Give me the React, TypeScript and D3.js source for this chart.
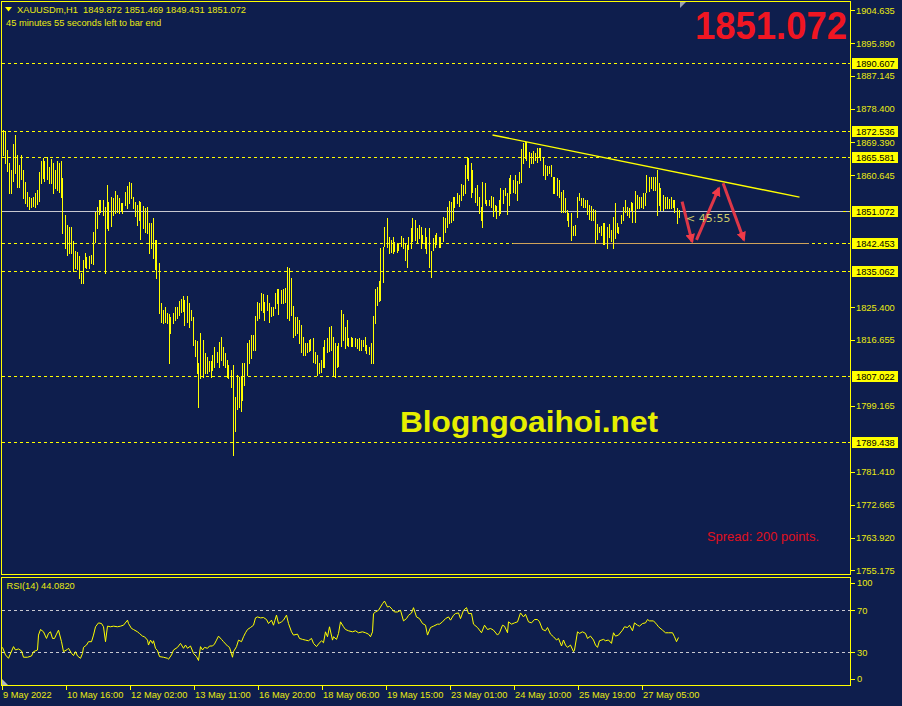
import React from "react";
import * as d3 from "d3";

const W = 902;
const H = 706;

// hourly bars, XAUUSDm H1 (high / low)
const highs = [
  1872.7, 1872.5, 1867.4, 1863.9, 1862.0, 1869.0, 1871.4, 1866.1, 1863.4, 1866.1,
  1862.0, 1858.8, 1856.2, 1854.8, 1854.6, 1854.8, 1855.9, 1856.7, 1861.5, 1864.5,
  1865.3, 1864.5, 1865.5, 1862.8, 1865.0, 1863.9, 1862.0, 1864.5, 1863.9, 1864.5,
  1859.9, 1850.0, 1847.4, 1846.8, 1846.8, 1843.1, 1840.4, 1840.2, 1839.1, 1834.5,
  1838.0, 1839.9, 1838.8, 1839.1, 1839.4, 1845.5, 1850.8, 1852.2, 1854.0, 1854.0,
  1854.0, 1852.2, 1858.0, 1853.5, 1854.8, 1854.6, 1856.4, 1855.4, 1854.6, 1853.2,
  1853.2, 1856.2, 1857.8, 1858.8, 1858.6, 1854.8, 1853.5, 1852.7, 1853.8, 1853.5,
  1852.4, 1851.9, 1852.2, 1847.9, 1847.9, 1849.2, 1843.4, 1843.4, 1837.2, 1826.5,
  1824.7, 1825.5, 1823.9, 1823.6, 1822.8, 1823.9, 1825.5, 1825.5, 1827.1, 1827.6,
  1828.4, 1827.3, 1828.4, 1826.5, 1824.7, 1822.8, 1816.7, 1816.4, 1810.5, 1818.5,
  1816.7, 1813.2, 1812.1, 1811.0, 1811.0, 1812.6, 1814.8, 1813.4, 1816.1, 1817.5,
  1814.8, 1813.2, 1811.3, 1810.0, 1808.6, 1810.0, 1801.4, 1807.3, 1806.8, 1807.0,
  1810.5, 1810.5, 1815.9, 1816.7, 1818.0, 1818.0, 1823.1, 1826.8, 1826.5, 1829.2,
  1828.9, 1826.8, 1828.7, 1826.5, 1825.5, 1825.5, 1829.2, 1830.3, 1830.3, 1830.0,
  1830.3, 1830.5, 1836.1, 1835.9, 1833.2, 1825.7, 1822.8, 1822.8, 1822.0, 1820.7,
  1817.5, 1815.9, 1815.9, 1816.7, 1816.9, 1817.2, 1813.4, 1812.6, 1810.5, 1811.3,
  1814.8, 1816.7, 1817.2, 1820.1, 1820.4, 1817.5, 1815.9, 1815.1, 1815.9, 1824.7,
  1823.6, 1820.1, 1822.0, 1817.2, 1817.5, 1817.2, 1817.2, 1816.9, 1817.2, 1816.7,
  1816.7, 1817.5, 1815.3, 1814.8, 1815.9, 1823.1, 1830.3, 1830.8, 1832.4, 1841.2,
  1841.5, 1846.8, 1849.2, 1844.2, 1843.4, 1844.2, 1842.8, 1842.6, 1842.6, 1844.4,
  1843.9, 1842.6, 1842.0, 1844.2, 1846.6, 1849.2, 1848.7, 1846.6, 1847.4, 1846.8,
  1844.7, 1846.6, 1844.2, 1846.6, 1840.4, 1843.9, 1844.7, 1845.2, 1844.2, 1844.2,
  1849.5, 1849.2, 1852.2, 1853.8, 1853.5, 1854.8, 1854.8, 1855.9, 1855.4, 1858.3,
  1858.0, 1863.4, 1865.5, 1865.3, 1863.9, 1862.0, 1857.2, 1858.0, 1854.8, 1852.2,
  1858.8, 1858.6, 1854.0, 1854.0, 1855.1, 1854.8, 1852.7, 1852.4, 1854.0, 1857.2,
  1856.7, 1857.2, 1855.9, 1859.9, 1860.7, 1859.4, 1860.7, 1859.1, 1861.5, 1867.7,
  1869.3, 1869.8, 1869.5, 1866.9, 1866.6, 1867.1, 1866.6, 1867.9, 1867.9, 1867.9,
  1865.5, 1863.4, 1863.1, 1863.1, 1863.4, 1860.2, 1860.2, 1859.9, 1859.4, 1856.2,
  1856.7, 1854.6, 1851.4, 1850.6, 1850.6, 1847.1, 1847.4, 1854.8, 1855.9, 1854.6,
  1854.6, 1854.0, 1854.0, 1852.7, 1852.4, 1851.6, 1851.4, 1847.6, 1846.8, 1847.1,
  1847.9, 1847.9, 1846.8, 1847.6, 1846.0, 1849.5, 1853.2, 1847.9, 1846.8, 1850.0,
  1852.2, 1854.0, 1852.2, 1851.9, 1853.5, 1853.2, 1856.4, 1855.4, 1854.8, 1854.8,
  1855.9, 1855.9, 1860.7, 1860.2, 1860.2, 1860.2, 1860.2, 1862.0, 1858.6, 1857.2,
  1855.4, 1854.8, 1854.8, 1854.3, 1854.8, 1854.0, 1854.0, 1851.9, 1851.469,
];

const lows = [
  1866.1, 1863.9, 1861.8, 1855.9, 1855.9, 1859.1, 1861.2, 1857.5, 1857.5, 1859.6,
  1854.6, 1853.2, 1852.4, 1851.6, 1852.2, 1852.4, 1852.2, 1853.0, 1853.8, 1858.6,
  1859.9, 1859.1, 1859.6, 1858.6, 1858.6, 1855.9, 1857.2, 1856.7, 1856.2, 1854.8,
  1845.2, 1841.2, 1839.4, 1839.9, 1839.9, 1835.1, 1835.9, 1835.6, 1833.2, 1831.9,
  1831.9, 1836.1, 1835.9, 1835.9, 1837.2, 1836.9, 1842.8, 1846.6, 1850.3, 1850.8,
  1850.0, 1834.5, 1846.6, 1846.0, 1847.1, 1850.0, 1850.6, 1850.8, 1850.6, 1851.1,
  1850.6, 1852.7, 1851.9, 1853.2, 1854.6, 1851.9, 1849.8, 1847.4, 1848.7, 1843.6,
  1846.6, 1845.5, 1845.2, 1839.9, 1841.2, 1838.6, 1835.6, 1833.2, 1823.9, 1821.5,
  1821.2, 1821.5, 1821.2, 1810.5, 1818.5, 1821.2, 1822.0, 1822.5, 1823.3, 1824.1,
  1824.4, 1820.7, 1821.5, 1820.1, 1822.0, 1815.3, 1812.4, 1807.8, 1798.8, 1806.5,
  1806.8, 1807.8, 1807.8, 1808.4, 1806.8, 1808.6, 1809.4, 1810.8, 1809.4, 1811.3,
  1810.0, 1809.4, 1806.8, 1806.5, 1804.1, 1785.9, 1792.3, 1798.2, 1798.8, 1797.7,
  1800.6, 1804.6, 1807.3, 1810.5, 1811.8, 1814.0, 1814.0, 1822.0, 1822.5, 1824.7,
  1824.1, 1822.0, 1824.7, 1821.5, 1823.1, 1823.3, 1825.2, 1826.5, 1823.6, 1826.5,
  1826.5, 1826.8, 1822.5, 1822.0, 1823.3, 1817.5, 1818.0, 1818.5, 1815.9, 1813.4,
  1812.6, 1812.6, 1813.4, 1813.7, 1814.0, 1810.8, 1810.5, 1807.3, 1807.8, 1808.1,
  1809.4, 1809.4, 1813.4, 1813.7, 1814.0, 1807.3, 1806.8, 1809.4, 1809.7, 1815.1,
  1816.7, 1814.5, 1815.3, 1815.1, 1815.1, 1815.1, 1815.1, 1814.5, 1814.0, 1814.0,
  1815.1, 1814.0, 1813.2, 1812.9, 1810.5, 1810.5, 1821.2, 1826.0, 1827.1, 1827.3,
  1832.1, 1841.8, 1841.5, 1839.9, 1840.2, 1839.9, 1840.4, 1840.2, 1840.7, 1841.8,
  1841.2, 1838.0, 1836.1, 1841.0, 1841.2, 1843.1, 1843.4, 1842.8, 1843.9, 1841.2,
  1842.8, 1841.2, 1839.9, 1836.1, 1833.5, 1840.7, 1841.5, 1842.3, 1841.5, 1841.5,
  1843.1, 1845.5, 1846.8, 1847.9, 1848.2, 1848.7, 1852.2, 1853.2, 1852.4, 1854.0,
  1855.4, 1855.9, 1859.9, 1859.4, 1854.8, 1856.2, 1853.5, 1852.7, 1850.6, 1848.7,
  1846.8, 1853.2, 1852.7, 1852.7, 1852.2, 1849.8, 1851.1, 1849.2, 1850.0, 1850.6,
  1853.2, 1855.4, 1850.3, 1852.7, 1855.9, 1856.2, 1855.9, 1854.0, 1858.6, 1858.8,
  1863.9, 1865.3, 1864.7, 1862.8, 1863.9, 1863.9, 1864.7, 1864.2, 1865.5, 1864.7,
  1860.7, 1859.6, 1860.7, 1861.2, 1860.4, 1855.9, 1855.9, 1855.4, 1854.8, 1850.8,
  1850.8, 1850.8, 1848.7, 1847.1, 1843.4, 1844.7, 1844.7, 1849.5, 1854.0, 1852.7,
  1852.2, 1852.2, 1850.3, 1849.0, 1848.7, 1848.7, 1842.6, 1843.6, 1845.5, 1844.7,
  1842.3, 1842.3, 1841.2, 1844.2, 1843.1, 1841.2, 1843.9, 1845.5, 1845.2, 1847.9,
  1848.7, 1850.8, 1850.0, 1849.5, 1851.4, 1848.2, 1848.2, 1851.9, 1851.9, 1852.2,
  1851.9, 1852.7, 1856.2, 1856.4, 1857.2, 1856.7, 1856.7, 1850.0, 1852.7, 1851.4,
  1851.4, 1851.9, 1851.9, 1851.9, 1851.9, 1852.2, 1850.8, 1847.9, 1849.431,
];

// RSI(14) readings: bar position and value
const rsiBars = [
  0, 1.5, 3, 5.5, 6.5, 8, 9.5, 10.5, 12.5, 14.5, 15.5, 17.5, 18, 19, 20.5, 22, 23, 24, 25, 26,
  27, 28, 29.5, 30.5, 32.5, 33, 34.5, 35.5, 36.5, 37.5, 39, 40, 40.5, 42, 43, 44.5, 45.5, 46.5, 48, 49.5,
  50.5, 51.5, 52.5, 54, 55.5, 57.5, 59, 60.5, 62.5, 63, 64.5, 65.5, 67.5, 68.5, 70, 71, 72.5, 73, 74, 75,
  75.5, 76.5, 77.5, 78.5, 80.5, 82.5, 83, 84.5, 85.5, 87.5, 89, 90.5, 91.5, 92.5, 94, 95.5, 97, 98, 99, 100,
  101, 102.5, 103.5, 105, 106, 107, 108, 109.5, 110.5, 112.5, 113.5, 115, 115.5, 117, 118, 119.5, 120.5, 121.5, 122.5, 124,
  125.5, 126.5, 127.5, 129, 130.5, 132, 133, 134.5, 135.5, 137, 138, 139.5, 140.5, 142, 143, 144.5, 145.5, 147.5, 148.5, 150,
  151.5, 153, 154.5, 155.5, 157, 158, 159.5, 160.5, 161.5, 162.5, 163.5, 165, 165.5, 167, 168, 169, 170.5, 171.5, 173, 175,
  176.5, 178, 180, 181.5, 183, 184, 185, 185.5, 186.5, 188, 190, 191, 192.5, 193.5, 195, 196, 197.5, 199, 200.5, 202,
  203, 204.5, 205.5, 207, 208.5, 210, 211.5, 212.5, 214, 215.5, 217.5, 218.5, 220, 221.5, 223, 224, 225.5, 226.5, 228, 229,
  230.5, 232, 233, 234.5, 235.5, 237.5, 239.5, 241, 242.5, 244, 245.5, 247.5, 248.5, 250, 251, 252.5, 253, 254.5, 256, 257.5,
  259, 260.5, 261.5, 263, 264.5, 266, 267.5, 268.5, 270, 271.5, 272.5, 274, 275.5, 277, 278, 279.5, 280.5, 281.5, 282.5, 284,
  285.5, 286, 287.5, 288.5, 290, 291.5, 292.5, 294, 295.5, 296.5, 297.5, 298.5, 300.5, 301.5, 303, 304.5, 305.5, 306.5, 308, 310,
  311, 312.5, 313.5, 315, 316, 317.5, 318.5, 320, 321.5, 322.5, 323.5, 325.5, 327, 328, 330, 331.5, 333, 335, 336, 337,
  338,
];
const rsiValues = [
  34.7, 27.5, 24.3, 35.4, 32.2, 33.2, 31.3, 25.3, 25.3, 26.5, 30.6, 32.2, 46.4, 51.7, 49.5, 43.2, 48.0, 49.5, 43.2, 43.2,
  47.3, 51.1, 40.1, 30.6, 32.8, 33.8, 29.0, 26.9, 30.6, 26.5, 24.3, 29.0, 34.7, 36.9, 40.1, 40.1, 46.4, 54.3, 58.0, 57.4,
  54.3, 40.1, 54.9, 54.3, 54.9, 54.3, 54.9, 55.8, 60.6, 57.4, 52.7, 51.7, 49.5, 47.9, 45.4, 44.8, 41.6, 36.9, 41.6, 38.5,
  41.0, 33.8, 31.6, 25.9, 25.3, 24.3, 23.4, 27.5, 32.2, 34.7, 38.5, 33.8, 36.9, 33.8, 36.0, 29.0, 25.9, 22.2, 35.4, 32.2,
  34.7, 33.8, 36.0, 36.0, 37.9, 41.6, 45.4, 42.3, 40.1, 36.0, 34.7, 25.3, 30.6, 35.4, 41.6, 40.1, 44.8, 48.6, 51.7, 53.6,
  55.8, 62.8, 63.7, 62.8, 63.1, 61.2, 57.4, 60.6, 55.8, 65.4, 57.4, 59.0, 60.6, 65.4, 57.4, 49.5, 46.4, 47.3, 43.2, 42.3,
  41.6, 41.0, 43.2, 38.5, 35.4, 37.9, 41.0, 39.1, 49.5, 44.8, 54.3, 41.6, 44.8, 42.3, 48.0, 59.0, 54.3, 51.7, 50.5, 49.5,
  50.5, 48.6, 49.5, 48.6, 47.3, 44.8, 49.5, 66.8, 68.4, 70.0, 76.3, 78.8, 73.1, 73.7, 70.6, 68.4, 68.4, 70.0, 59.9, 62.1,
  65.2, 67.4, 72.5, 63.7, 62.1, 57.4, 55.8, 46.4, 53.6, 54.9, 56.8, 56.8, 59.0, 62.1, 63.7, 60.6, 65.3, 66.9, 67.5, 62.1,
  70.0, 72.5, 66.9, 66.9, 56.8, 53.6, 48.6, 55.8, 51.7, 52.7, 51.1, 46.4, 48.6, 55.8, 54.9, 48.6, 59.0, 56.8, 58.0, 59.0,
  67.5, 63.7, 66.2, 59.0, 58.0, 61.2, 61.2, 59.0, 51.7, 50.5, 53.6, 47.3, 44.8, 41.7, 43.2, 36.0, 41.7, 36.9, 34.7, 36.9,
  30.6, 32.2, 49.5, 48.0, 49.5, 48.0, 43.2, 45.4, 41.7, 36.9, 34.7, 41.0, 42.3, 41.0, 41.7, 38.5, 48.6, 45.4, 46.4, 51.1,
  54.3, 53.6, 55.8, 50.5, 58.0, 55.8, 54.9, 57.4, 58.0, 61.2, 59.9, 59.9, 56.8, 54.3, 51.1, 48.6, 48.6, 48.6, 44.8, 40.1,
  44.08,
];

const levelPrices = [1890.607, 1872.536, 1865.581, 1842.453, 1835.062, 1807.022, 1789.438];
const bidPrice = 1851.072;
const axisPrices = [
  "1904.635", "1895.890", "1887.145", "1878.400", "1869.390", "1860.645",
  "1825.400", "1816.655", "1799.165", "1781.410", "1772.665", "1763.920", "1755.175",
];
const boxPrices = ["1890.607", "1872.536", "1865.581", "1851.072", "1842.453", "1835.062", "1807.022", "1789.438"];
const timeTickBars = [0, 32, 64, 96, 128, 160, 192, 224, 256, 288, 320];
const timeLabels = [
  "9 May 2022", "10 May 16:00", "12 May 02:00", "13 May 11:00", "16 May 20:00", "18 May 06:00",
  "19 May 15:00", "23 May 01:00", "24 May 10:00", "25 May 19:00", "27 May 05:00",
];
const rsiLevels = [70, 30];
const rsiAxis = [100, 70, 30, 0];

// drawn objects: [bar, price]
const trendLine = [[245, 1871.4], [398.5, 1854.8]];
const supportSeg = [[255, 1842.453], [403, 1842.453]];
const arrows = [
  [[339.8, 1853.6], [344.8, 1842.9]],
  [[347, 1843.4], [358.2, 1857.2]],
  [[360.3, 1858.5], [370.7, 1843.4]],
];

const BG = "#0e1e4d";
const YEL = "#ffff00";
const TXT = "#eaea12";
const FONT = "'Liberation Sans', Arial, sans-serif";

export default function App() {
  const x = d3.scaleLinear().domain([0, 338]).range([2.5, 678.5]);
  const y = d3.scaleLinear().domain([1755.175, 1904.635]).range([570.4, 10.45]);
  const ry = d3.scaleLinear().domain([0, 100]).range([683.8, 578.8]);
  const px = (i: number) => Math.round(x(i)) + 0.5;
  const py = (v: number) => Math.round(y(v)) + 0.5;

  const rsiLine = d3
    .line<number>()
    .x((d, i) => x(rsiBars[i]))
    .y((d) => ry(d))(rsiValues);

  const right = 850.5;

  return (
    <svg
      width={W}
      height={H}
      viewBox={`0 0 ${W} ${H}`}
      style={{ position: "absolute", left: 0, top: 0, display: "block" }}
      fontFamily={FONT}
    >
      <defs>
        <marker id="ah" viewBox="0 0 10 10" refX="8" refY="5" markerWidth="3.2" markerHeight="3.2" orient="auto">
          <path d="M0,0 L10,5 L0,10 z" fill="#f03a48" />
        </marker>
      </defs>
      <rect x={0} y={0} width={W} height={H} fill={BG} />

      {/* level lines */}
      {levelPrices.map((p) => (
        <line key={p} x1={1.5} x2={right} y1={py(p)} y2={py(p)} stroke={YEL} strokeDasharray="3,3" shapeRendering="crispEdges" />
      ))}
      <line
        x1={x(supportSeg[0][0])} x2={x(supportSeg[1][0])}
        y1={py(supportSeg[0][1])} y2={py(supportSeg[1][1])}
        stroke="#cfa35a" shapeRendering="crispEdges"
      />
      <line x1={1.5} x2={right} y1={py(bidPrice)} y2={py(bidPrice)} stroke="#c8c8d0" shapeRendering="crispEdges" />

      {/* trend line */}
      <line
        x1={x(trendLine[0][0])} y1={y(trendLine[0][1])}
        x2={x(trendLine[1][0])} y2={y(trendLine[1][1])}
        stroke={YEL} strokeWidth={1.4}
      />

      {/* bars */}
      <g stroke={YEL} shapeRendering="crispEdges">
        {highs.map((h, i) => (
          <line key={i} x1={px(i)} x2={px(i)} y1={Math.round(y(h))} y2={Math.round(y(lows[i])) + 1} />
        ))}
      </g>

      {/* arrows */}
      <g stroke="#f03a48" strokeWidth={3} strokeOpacity={0.92} fill="none">
        {arrows.map((a, i) => (
          <line key={i} x1={x(a[0][0])} y1={y(a[0][1])} x2={x(a[1][0])} y2={y(a[1][1])} markerEnd="url(#ah)" />
        ))}
      </g>

      <text x={686} y={222} fontSize={11} fill="#c9c96a" fontFamily="'DejaVu Sans', sans-serif">{"< 45:55"}</text>

      {/* header */}
      <path d="M5,7 L12,7 L8.5,11.5 z" fill={YEL} />
      <text x={17} y={12.7} fontSize={9.3} fill={TXT} style={{ whiteSpace: "pre" }}>
        {"XAUUSDm,H1  1849.872 1851.469 1849.431 1851.072"}
      </text>
      <text x={6} y={26} fontSize={9.3} fill={TXT}>45 minutes 55 seconds left to bar end</text>
      <path d="M680,2 L686,2 L680,8 z" fill="#9aa0b0" />

      <text x={695} y={38.5} fontSize={38} fontWeight="bold" fill="#f01622" textLength={152} lengthAdjust="spacingAndGlyphs">
        1851.072
      </text>
      <text x={400} y={431.5} fontSize={30} fontWeight="bold" fill="#e6ef00" textLength={258} lengthAdjust="spacingAndGlyphs">
        Blogngoaihoi.net
      </text>
      <text x={707} y={540.5} fontSize={12.5} fill="#e0101e" textLength={112} lengthAdjust="spacingAndGlyphs">
        Spread: 200 points.
      </text>

      {/* RSI panel */}
      {rsiLevels.map((l) => (
        <line key={l} x1={1.5} x2={right} y1={Math.round(ry(l)) + 0.5} y2={Math.round(ry(l)) + 0.5} stroke="#c8c8d0" strokeDasharray="3,3" shapeRendering="crispEdges" />
      ))}
      <path d={rsiLine ?? ""} fill="none" stroke={YEL} strokeWidth={1} />
      <text x={6.5} y={589} fontSize={9.3} fill={TXT}>RSI(14) 44.0820</text>
      <path d="M2,679 L2,685 L8,685 z" fill="#b0b4c0" />

      {/* frames */}
      <g fill="none" stroke={YEL} strokeWidth={1} shapeRendering="crispEdges">
        <rect x={1.5} y={1.5} width={right - 1.5} height={573} />
        <rect x={1.5} y={577.5} width={right - 1.5} height={107.5} />
      </g>

      {/* price axis */}
      <g fontSize={9.3} fill={TXT}>
        {axisPrices.map((s) => {
          const yy = y(+s);
          return (
            <g key={s}>
              <line x1={right} x2={855} y1={Math.round(yy) + 0.5} y2={Math.round(yy) + 0.5} stroke={YEL} shapeRendering="crispEdges" />
              <text x={856} y={yy} dy="0.36em">{s}</text>
            </g>
          );
        })}
        {boxPrices.map((s) => {
          const yy = Math.round(y(+s));
          return (
            <g key={s}>
              <line x1={843} x2={right} y1={yy + 0.5} y2={yy + 0.5} stroke={YEL} strokeDasharray="3,3" shapeRendering="crispEdges" />
              <rect x={852} y={yy - 5} width={46} height={11} fill={YEL} />
              <text x={856} y={yy + 0.5} dy="0.36em" fill="#000">{s}</text>
            </g>
          );
        })}
      </g>

      {/* RSI axis */}
      <g fontSize={9.3} fill={TXT}>
        {rsiAxis.map((v) => {
          const yy = Math.min(Math.max(ry(v), 583), 678.5);
          return (
            <g key={v}>
              <line x1={right} x2={855} y1={Math.round(yy) + 0.5} y2={Math.round(yy) + 0.5} stroke={YEL} shapeRendering="crispEdges" />
              <text x={857} y={yy} dy="0.36em">{v}</text>
            </g>
          );
        })}
      </g>

      {/* time axis */}
      <g fontSize={9.3} fill={TXT}>
        {timeTickBars.map((b, i) => {
          const xx = Math.round(x(b)) - 0.5;
          return (
            <g key={b}>
              <line x1={xx} x2={xx} y1={685} y2={690} stroke={YEL} shapeRendering="crispEdges" />
              <text x={xx + 0.5} y={698}>{timeLabels[i]}</text>
            </g>
          );
        })}
      </g>
    </svg>
  );
}
